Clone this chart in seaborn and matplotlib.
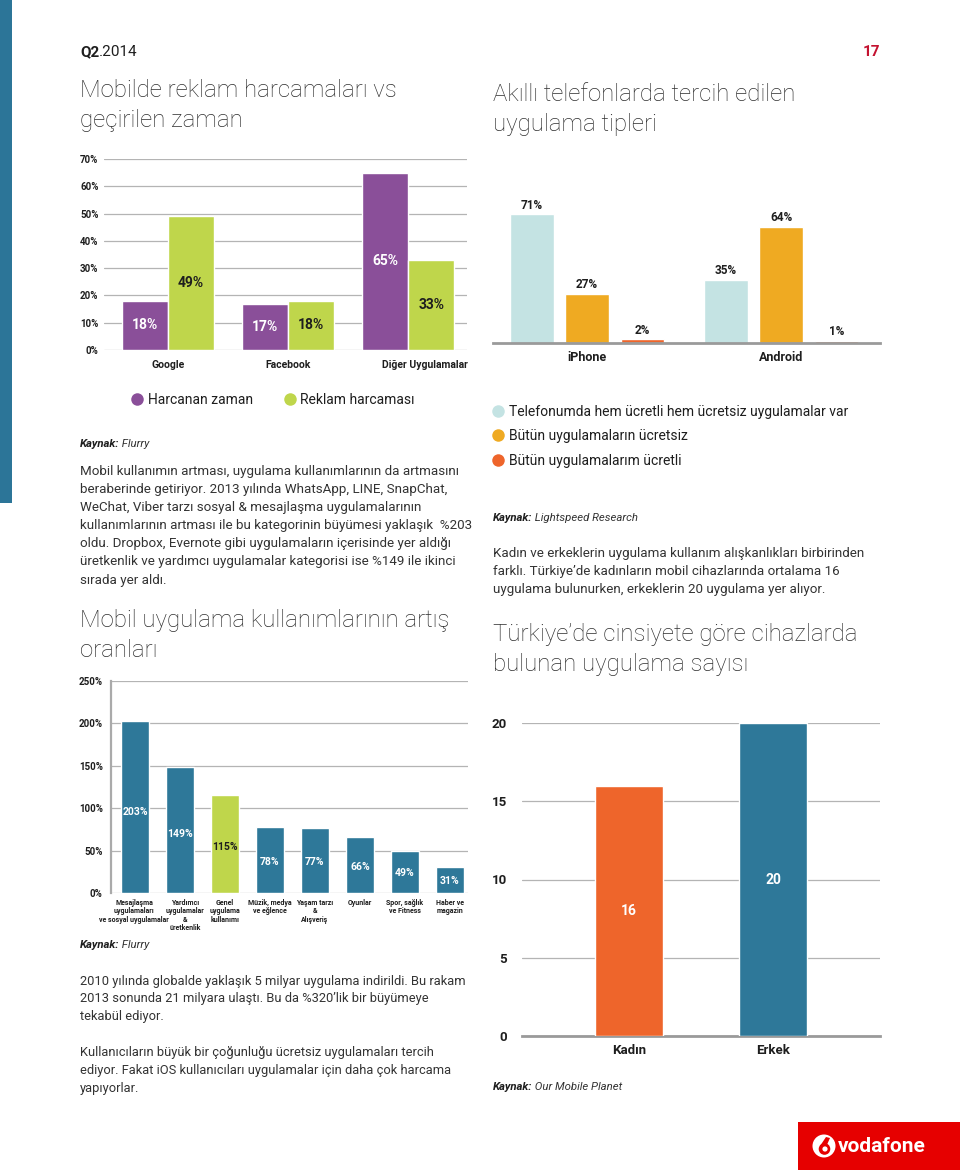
import matplotlib
matplotlib.use("Agg")
import matplotlib.pyplot as plt
import seaborn as sns
import pandas as pd
from matplotlib.lines import Line2D
from matplotlib.patches import Rectangle, Circle, Polygon
import matplotlib.transforms as mtransforms

# ---------------- data ----------------
time_ad_categories = ["Google", "Facebook", "Diğer Uygulamalar"]
time_ad_series = ["Harcanan zaman", "Reklam harcaması"]
time_spent = [18, 17, 65]
ad_spend = [49, 18, 33]
time_ad_ticks = [0, 10, 20, 30, 40, 50, 60, 70]

phone_categories = ["iPhone", "Android"]
phone_series = ["Telefonumda hem ücretli hem ücretsiz uygulamalar var",
                "Bütün uygulamaların ücretsiz",
                "Bütün uygulamalarım ücretli"]
both_paid_free = [71, 35]
all_free = [27, 64]
all_paid = [2, 1]

growth_categories = ["Mesajlaşma\nuygulamaları\nve sosyal uygulamalar",
                     "Yardımcı\nuygulamalar\n&\nüretkenlik",
                     "Genel\nuygulama\nkullanımı",
                     "Müzik, medya\nve eğlence",
                     "Yaşam tarzı\n&\nAlışveriş",
                     "Oyunlar",
                     "Spor, sağlık\nve Fitness",
                     "Haber ve\nmagazin"]
growth_values = [203, 149, 115, 78, 77, 66, 49, 31]
growth_ticks = [0, 50, 100, 150, 200, 250]

gender_categories = ["Kadın", "Erkek"]
gender_apps = [16, 20]
gender_ticks = [0, 5, 10, 15, 20]

# ---------------- style ----------------
sns.set_theme(style="white")
plt.rcParams['font.family'] = ['Roboto', 'DejaVu Sans']

PURPLE = "#8a4f99"
LIME = "#bfd64b"
BLUE = "#2e7899"
TEAL = "#c4e3e3"
YELLOW = "#efaa22"
ORANGE = "#ee652b"
TXT = "#333333"
DARK = "#1e1e1e"
GRID = "#b4b4b4"

W, H = 960, 1174
fig = plt.figure(figsize=(W / 100, H / 100), dpi=100)
fig.patch.set_facecolor("white")
renderer = fig.canvas.get_renderer()


def px_axes(x0, y0, x1, y1):
    return fig.add_axes([x0 / W, 1 - y1 / H, (x1 - x0) / W, (y1 - y0) / H])


def ftext(x, y, s, **kw):
    kw.setdefault("va", "baseline")
    kw.setdefault("ha", "left")
    kw.setdefault("color", TXT)
    return fig.text(x / W, 1 - y / H, s, **kw)


def runs(x, y, parts):
    """parts: list of (text, kwargs) drawn one after another on one baseline"""
    for s, kw in parts:
        t = ftext(x, y, s, **kw)
        bb = t.get_window_extent(renderer)
        x = bb.x1 + 0.0


def lines(x, y0, step, texts, **kw):
    for i, s in enumerate(texts):
        ftext(x, y0 + i * step, s, **kw)


def shift(label, dx_px):
    label.set_transform(label.get_transform() +
                        mtransforms.ScaledTranslation(dx_px / 100, 0, fig.dpi_scale_trans))


# left blue strip
fig.add_artist(Rectangle((0, 1 - 503 / H), 12 / W, 503 / H,
                         transform=fig.transFigure, color="#2c7598", lw=0))

# header
runs(80, 56, [("Q2", dict(fontsize=11, fontweight="bold", color=DARK)),
              (".2014", dict(fontsize=11, color=DARK))])
ftext(880, 56, "17", ha="right", fontsize=11, fontweight="bold", color="#c41230")

TITLE = dict(fontsize=17.3, fontweight="light", color="#2e2e2e")
lines(80, 97, 30, ["Mobilde reklam harcamaları vs", "geçirilen zaman"], **TITLE)
lines(493, 101, 30, ["Akıllı telefonlarda tercih edilen", "uygulama tipleri"], **TITLE)

KAY_B = dict(fontsize=8.2, fontweight="bold", style="italic", color=DARK)
KAY_I = dict(fontsize=8.2, style="italic", color=TXT)

# ---------------- chart 1: time vs ad spend ----------------
ax1 = px_axes(104, 159, 467, 350)
df1 = pd.DataFrame({
    "cat": time_ad_categories * 2,
    "series": [time_ad_series[0]] * 3 + [time_ad_series[1]] * 3,
    "val": time_spent + ad_spend,
})
sns.barplot(data=df1, x="cat", y="val", hue="series", palette=[PURPLE, LIME],
            width=0.767, saturation=1, legend=False, ax=ax1, zorder=3)
ax1.set_ylim(0, 70)
ax1.set_xlim(-0.533, 2.49)
ax1.set_yticks(time_ad_ticks)
ax1.set_yticklabels([f"{t}%" for t in time_ad_ticks], fontsize=7, fontweight="bold", color=DARK)
ax1.yaxis.grid(True, color=GRID, lw=0.9, zorder=0)
ax1.tick_params(axis="both", length=0)
ax1.tick_params(axis="y", pad=4)
ax1.tick_params(axis="x", pad=7)
for lbl in ax1.get_xticklabels():
    lbl.set_fontsize(7.5)
    lbl.set_fontweight("bold")
    lbl.set_color(DARK)
shift(ax1.get_xticklabels()[-1], 17)
ax1.set_xlabel("")
ax1.set_ylabel("")
for s in ax1.spines.values():
    s.set_visible(False)
for cont, vals, col in zip(ax1.containers, [time_spent, ad_spend], ["white", DARK]):
    ax1.bar_label(cont, labels=[f"{v}%" for v in vals], label_type="center",
                  fontsize=10, fontweight="bold", color=col)

# legend chart 1
h1 = [Line2D([], [], marker="o", ls="", markersize=9, color=c, markeredgewidth=0)
      for c in [PURPLE, LIME]]
fig.legend(h1, time_ad_series, loc="center left", bbox_to_anchor=(131 / W, 1 - 400 / H),
           ncol=2, frameon=False, fontsize=10, handlelength=0.9, handletextpad=0.3,
           columnspacing=2.2, borderpad=0, borderaxespad=0, labelcolor=DARK)

runs(80, 447, [("Kaynak:", KAY_B), (" Flurry", KAY_I)])

BODY = dict(fontsize=9.6, color=TXT)
lines(80, 475, 18.1, [
    "Mobil kullanımın artması, uygulama kullanımlarının da artmasını",
    "beraberinde getiriyor. 2013 yılında WhatsApp, LINE, SnapChat,",
    "WeChat, Viber tarzı sosyal & mesajlaşma uygulamalarının",
    "kullanımlarının artması ile bu kategorinin büyümesi yaklaşık  %203",
    "oldu. Dropbox, Evernote gibi uygulamaların içerisinde yer aldığı",
    "üretkenlik ve yardımcı uygulamalar kategorisi ise %149 ile ikinci",
    "sırada yer aldı.",
], **BODY)

lines(80, 627, 30, ["Mobil uygulama kullanımlarının artış", "oranları"], **TITLE)

# ---------------- chart 2: phone app types ----------------
ax2 = px_axes(493, 198, 880, 343)
df2 = pd.DataFrame({
    "cat": phone_categories * 3,
    "series": [phone_series[0]] * 2 + [phone_series[1]] * 2 + [phone_series[2]] * 2,
    "val": both_paid_free + all_free + all_paid,
})
sns.barplot(data=df2, x="cat", y="val", hue="series", palette=[TEAL, YELLOW, ORANGE],
            width=0.858, gap=0.21, saturation=1, legend=False, ax=ax2)
ax2.set_ylim(0, 80)
ax2.set_xlim(-0.485, 1.51)
ax2.set_yticks([])
ax2.set_xlabel("")
ax2.set_ylabel("")
ax2.tick_params(axis="x", length=0, pad=6)
for lbl in ax2.get_xticklabels():
    lbl.set_fontsize(9)
    lbl.set_fontweight("bold")
    lbl.set_color(DARK)
for k, s in ax2.spines.items():
    s.set_visible(k == "bottom")
ax2.spines["bottom"].set_color("#9a9a9a")
ax2.spines["bottom"].set_linewidth(2)
for cont, vals in zip(ax2.containers, [both_paid_free, all_free, all_paid]):
    ax2.bar_label(cont, labels=[f"{v}%" for v in vals], padding=2,
                  fontsize=8.5, fontweight="bold", color=DARK)

h2 = [Line2D([], [], marker="o", ls="", markersize=9, color=c, markeredgewidth=0)
      for c in [TEAL, YELLOW, ORANGE]]
fig.legend(h2, phone_series, loc="upper left", bbox_to_anchor=(492 / W, 1 - 405 / H),
           ncol=1, frameon=False, fontsize=10, handlelength=0.9, handletextpad=0.3,
           labelspacing=0.74, borderpad=0, borderaxespad=0, labelcolor=DARK)

runs(493, 521, [("Kaynak:", KAY_B), (" Lightspeed Research", KAY_I)])

lines(493, 557, 18.1, [
    "Kadın ve erkeklerin uygulama kullanım alışkanlıkları birbirinden",
    "farklı. Türkiye’de kadınların mobil cihazlarında ortalama 16",
    "uygulama bulunurken, erkeklerin 20 uygulama yer alıyor.",
], **BODY)

lines(493, 641, 30, ["Türkiye’de cinsiyete göre cihazlarda", "bulunan uygulama sayısı"], **TITLE)

# ---------------- chart 3: growth ----------------
ax3 = px_axes(111, 681, 468, 893)
pal3 = [BLUE, BLUE, LIME, BLUE, BLUE, BLUE, BLUE, BLUE]
sns.barplot(x=growth_categories, y=growth_values, hue=growth_categories, palette=pal3,
            width=0.64, saturation=1, legend=False, ax=ax3, zorder=3)
ax3.set_ylim(0, 250)
ax3.set_xlim(-0.533, 7.4)
ax3.set_yticks(growth_ticks)
ax3.set_yticklabels([f"{t}%" for t in growth_ticks], fontsize=7, fontweight="bold", color=DARK)
ax3.yaxis.grid(True, color=GRID, lw=0.9, zorder=0)
ax3.tick_params(axis="both", length=0)
ax3.tick_params(axis="y", pad=6)
ax3.tick_params(axis="x", pad=4)
for lbl in ax3.get_xticklabels():
    lbl.set_fontsize(5.0)
    lbl.set_fontweight("bold")
    lbl.set_color(DARK)
    lbl.set_linespacing(1.1)
shift(ax3.get_xticklabels()[0], -1)
shift(ax3.get_xticklabels()[1], 5)
for k, s in ax3.spines.items():
    s.set_visible(k == "left")
ax3.spines["left"].set_color("#aaaaaa")
ax3.spines["left"].set_linewidth(1.6)
for i, v in enumerate(growth_values):
    ax3.text(i, v * 0.47, f"{v}%", ha="center", va="center", fontsize=7.5,
             fontweight="bold", color=DARK if pal3[i] == LIME else "white", zorder=4)

runs(80, 948, [("Kaynak:", KAY_B), (" Flurry", KAY_I)])

BODY2 = dict(fontsize=9.3, color=TXT)
lines(80, 985, 17.3, [
    "2010 yılında globalde yaklaşık 5 milyar uygulama indirildi. Bu rakam",
    "2013 sonunda 21 milyara ulaştı. Bu da %320’lik bir büyümeye",
    "tekabül ediyor.",
], **BODY2)
lines(80, 1056, 18, [
    "Kullanıcıların büyük bir çoğunluğu ücretsiz uygulamaları tercih",
    "ediyor. Fakat iOS kullanıcıları uygulamalar için daha çok harcama",
    "yapıyorlar.",
], **BODY2)

# ---------------- chart 4: gender ----------------
ax4 = px_axes(522, 723, 880, 1036)
sns.barplot(x=gender_categories, y=gender_apps, hue=gender_categories, palette=[ORANGE, BLUE],
            width=0.47, saturation=1, legend=False, ax=ax4, zorder=3)
ax4.set_ylim(0, 20)
ax4.set_xlim(-0.743, 1.743)
ax4.set_yticks(gender_ticks)
ax4.set_yticklabels([str(t) for t in gender_ticks], fontsize=9.5, fontweight="bold", color=DARK)
ax4.yaxis.grid(True, color=GRID, lw=0.9, zorder=0)
ax4.tick_params(axis="both", length=0)
ax4.tick_params(axis="y", pad=11)
ax4.tick_params(axis="x", pad=6)
for lbl in ax4.get_xticklabels():
    lbl.set_fontsize(9.5)
    lbl.set_fontweight("bold")
    lbl.set_color(DARK)
for k, s in ax4.spines.items():
    s.set_visible(k == "bottom")
ax4.spines["bottom"].set_color("#9a9a9a")
ax4.spines["bottom"].set_linewidth(2)
for cont in ax4.containers:
    ax4.bar_label(cont, labels=[str(int(b.get_height())) for b in cont], label_type="center",
                  fontsize=10, fontweight="bold", color="white")

runs(493, 1090, [("Kaynak:", KAY_B), (" Our Mobile Planet", KAY_I)])

# ---------------- vodafone logo ----------------
axl = px_axes(798, 1122, 960, 1170)
axl.set_xlim(798, 960)
axl.set_ylim(1170, 1122)
axl.axis("off")
axl.add_patch(Rectangle((798, 1122), 162, 48, color="#e60000", lw=0))
axl.add_patch(Circle((824, 1146), 11.5, color="white", lw=0))
axl.add_patch(Circle((824.5, 1149), 5.8, color="#e60000", lw=0))
axl.add_patch(Polygon([(820, 1146), (826, 1137), (830, 1138), (826, 1147)], closed=True,
                      color="#e60000", lw=0))
axl.add_patch(Circle((825, 1149), 2.6, color="white", lw=0))
axl.text(838, 1147, "vodafone", ha="left", va="center", fontsize=15, fontweight="bold",
         color="white")

fig.savefig("out.png", dpi=100, facecolor="white")
